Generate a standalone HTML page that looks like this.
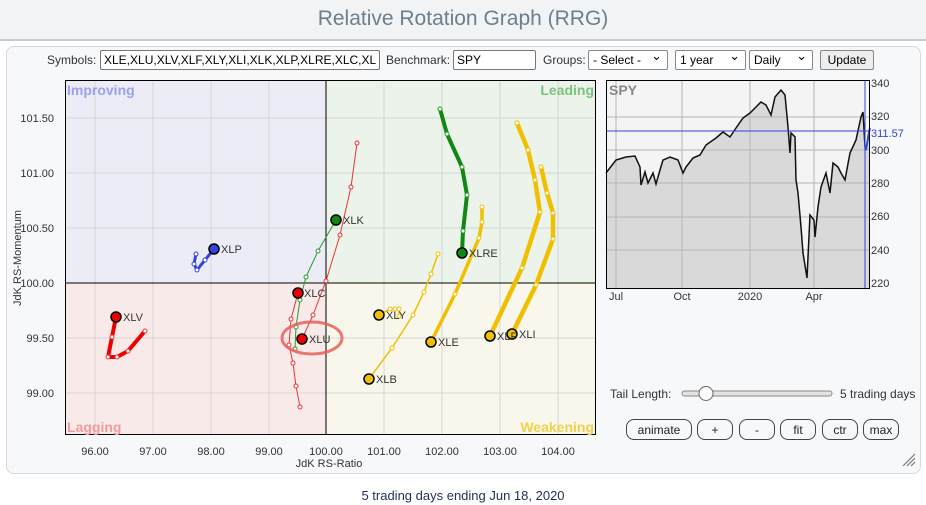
<!DOCTYPE html>
<html><head><meta charset="utf-8"><style>
body{margin:0;width:926px;height:505px;background:#fff;font-family:"Liberation Sans",sans-serif;position:relative;overflow:hidden}
.hdr{position:absolute;left:0;top:0;width:926px;height:39px;background:#f2f3f5;border-bottom:2px solid #c3ccd4;text-align:center;font-size:21px;line-height:37px;color:#6a7f8f}
.panel{position:absolute;left:6px;top:46px;width:913px;height:426px;background:#f7f8fa;border:1px solid #d5d8dc;border-radius:8px}
.t{position:absolute;font-size:12px;color:#333;white-space:nowrap}
.inp{position:absolute;border:1px solid #777;background:#fff;font-size:12px;line-height:18px;padding-left:3px;box-sizing:border-box;height:20px;color:#000;border-radius:2px;overflow:hidden;white-space:nowrap}
.sel{position:absolute;height:20px;border:1px solid #888;background:#fff;font-size:12px;line-height:18px;padding-left:4px;box-sizing:border-box;border-radius:2px;white-space:nowrap}
.sel:after{content:"⌄";position:absolute;right:5px;top:-4px;font-size:13px}
.upd{position:absolute;height:20px;border:1px solid #888;background:#eee;font-size:12px;line-height:18px;box-sizing:border-box;border-radius:2px;text-align:center}
.btn{position:absolute;top:419px;height:21px;border:1px solid #444;border-radius:8px;background:#f7f8fa;font-size:12px;text-align:center;line-height:20px;box-sizing:border-box;color:#222}
</style></head><body>
<div class="hdr">Relative Rotation Graph (RRG)</div>
<div class="panel"></div>
<div class="t" style="left:47px;top:53px">Symbols:</div>
<div class="inp" style="left:100px;top:50px;width:280px">XLE,XLU,XLV,XLF,XLY,XLI,XLK,XLP,XLRE,XLC,XL</div>
<div class="t" style="left:386px;top:53px">Benchmark:</div>
<div class="inp" style="left:453px;top:50px;width:83px">SPY</div>
<div class="t" style="left:543px;top:53px">Groups:</div>
<div class="sel" style="left:588px;top:50px;width:80px">- Select -</div>
<div class="sel" style="left:675px;top:50px;width:71px">1 year</div>
<div class="sel" style="left:749px;top:50px;width:64px">Daily</div>
<div class="upd" style="left:820px;top:50px;width:54px">Update</div>
<svg width="926" height="505" style="position:absolute;left:0;top:0" font-family="Liberation Sans, sans-serif">
<rect x="65" y="80" width="261" height="203" fill="#ececf7"/>
<rect x="326" y="80" width="270" height="203" fill="#ebf3eb"/>
<rect x="65" y="283" width="261" height="152" fill="#f9eaea"/>
<rect x="326" y="283" width="270" height="152" fill="#f9f7eb"/>
<g stroke="#d6d6d6" stroke-width="1">
<line x1="95" y1="80" x2="95" y2="435"/><line x1="153" y1="80" x2="153" y2="435"/><line x1="211" y1="80" x2="211" y2="435"/><line x1="269" y1="80" x2="269" y2="435"/><line x1="384" y1="80" x2="384" y2="435"/><line x1="442" y1="80" x2="442" y2="435"/><line x1="500" y1="80" x2="500" y2="435"/><line x1="558" y1="80" x2="558" y2="435"/>
<line x1="65" y1="118" x2="596" y2="118"/><line x1="65" y1="173" x2="596" y2="173"/><line x1="65" y1="228" x2="596" y2="228"/><line x1="65" y1="338" x2="596" y2="338"/><line x1="65" y1="393" x2="596" y2="393"/>
</g>
<line x1="326" y1="80" x2="326" y2="435" stroke="#000"/><line x1="65" y1="283" x2="596" y2="283" stroke="#000"/>
<rect x="65.5" y="80.5" width="530" height="354" fill="none" stroke="#000"/>
<g font-size="14" font-weight="bold"><text x="67" y="95" fill="#9aa2ea">Improving</text><text x="594" y="95" fill="#7cc27c" text-anchor="end">Leading</text><text x="67" y="432" fill="#f59a9a">Lagging</text><text x="594" y="432" fill="#f2d14a" text-anchor="end">Weakening</text></g>
<g font-size="11" fill="#333" text-anchor="end"><text x="54" y="122">101.50</text><text x="54" y="177">101.00</text><text x="54" y="232">100.50</text><text x="54" y="287">100.00</text><text x="54" y="342">99.50</text><text x="54" y="397">99.00</text></g>
<g font-size="11" fill="#333" text-anchor="middle"><text x="95" y="455">96.00</text><text x="153" y="455">97.00</text><text x="211" y="455">98.00</text><text x="269" y="455">99.00</text><text x="326" y="455">100.00</text><text x="384" y="455">101.00</text><text x="442" y="455">102.00</text><text x="500" y="455">103.00</text><text x="558" y="455">104.00</text><text x="329" y="467">JdK RS-Ratio</text></g>
<text transform="translate(21,258) rotate(-90)" font-size="11" fill="#333" text-anchor="middle">JdK RS-Momentum</text>
<g fill="none" stroke-linejoin="round" stroke-linecap="round">
<polyline points="214,249 205,260 197,270 194,264 196,254" stroke="#3344dd" stroke-width="3"/>
<polyline points="336,220 318,251 306,277 300,300 296,327 295,349" stroke="#2a9a2a" stroke-width="1"/>
<polyline points="298,293 291,319 289,345 293,363 296,386 300,407" stroke="#ee3333" stroke-width="1"/>
<polyline points="302,339 313,315 326,281 340,235 351,187 357,143" stroke="#ee3333" stroke-width="1"/>
<polyline points="116,317 112,337 108,357 117,357 128,351 145,331" stroke="#ee0000" stroke-width="4"/>
<polyline points="462,253 463,231 467,195 462,167 447,134 440,109" stroke="#118811" stroke-width="4"/>
<polyline points="379,315 390,309 395,309 399,309 399,316" stroke="#f0c000" stroke-width="1.5"/>
<polyline points="369,379 392,348 413,315 424,292 431,274 438,254" stroke="#f0c000" stroke-width="1.5"/>
<polyline points="431,342 455,294 479,238 482,222 482,207" stroke="#f0c000" stroke-width="3.5"/>
<polyline points="490,336 522,268 540,212 535,180 528,150 517,123" stroke="#f0c000" stroke-width="4.5"/>
<polyline points="512,334 536,285 553,239 553,213 547,193 541,167" stroke="#f0c000" stroke-width="4.5"/>
</g>
<g fill="#fff" stroke-width="1">
<g stroke="#3344dd"><circle cx="205" cy="260" r="2"/><circle cx="197" cy="270" r="2"/><circle cx="194" cy="264" r="2"/><circle cx="196" cy="254" r="2"/></g>
<g stroke="#2a9a2a"><circle cx="318" cy="251" r="2"/><circle cx="306" cy="277" r="2"/><circle cx="300" cy="300" r="2"/><circle cx="296" cy="327" r="2"/><circle cx="295" cy="349" r="2"/><circle cx="447" cy="134" r="2"/><circle cx="440" cy="109" r="2"/><circle cx="462" cy="167" r="2"/><circle cx="467" cy="195" r="2"/><circle cx="463" cy="231" r="2"/></g>
<g stroke="#ee3333"><circle cx="291" cy="319" r="2"/><circle cx="289" cy="345" r="2"/><circle cx="293" cy="363" r="2"/><circle cx="296" cy="386" r="2"/><circle cx="300" cy="407" r="2"/><circle cx="313" cy="315" r="2"/><circle cx="326" cy="281" r="2"/><circle cx="340" cy="235" r="2"/><circle cx="351" cy="187" r="2"/><circle cx="357" cy="143" r="2"/><circle cx="112" cy="337" r="2"/><circle cx="108" cy="357" r="2"/><circle cx="117" cy="357" r="2"/><circle cx="128" cy="351" r="2"/><circle cx="145" cy="331" r="2"/></g>
<g stroke="#f0c000"><circle cx="390" cy="309" r="2"/><circle cx="395" cy="309" r="2"/><circle cx="399" cy="309" r="2"/><circle cx="399" cy="316" r="2"/><circle cx="392" cy="348" r="2"/><circle cx="413" cy="315" r="2"/><circle cx="424" cy="292" r="2"/><circle cx="431" cy="274" r="2"/><circle cx="438" cy="254" r="2"/><circle cx="455" cy="294" r="2"/><circle cx="479" cy="238" r="2"/><circle cx="482" cy="222" r="2"/><circle cx="482" cy="207" r="2"/><circle cx="522" cy="268" r="2"/><circle cx="540" cy="212" r="2"/><circle cx="535" cy="180" r="2"/><circle cx="528" cy="150" r="2"/><circle cx="517" cy="123" r="2"/><circle cx="536" cy="285" r="2"/><circle cx="553" cy="239" r="2"/><circle cx="553" cy="213" r="2"/><circle cx="547" cy="193" r="2"/><circle cx="541" cy="167" r="2"/></g>
</g>
<g stroke="#000" stroke-width="1.5">
<circle cx="214" cy="249" r="5" fill="#3344dd"/><circle cx="336" cy="220" r="5" fill="#118811"/><circle cx="298" cy="293" r="5" fill="#ee0000"/><circle cx="302" cy="339" r="5" fill="#ee0000"/><circle cx="116" cy="317" r="5" fill="#ee0000"/><circle cx="462" cy="253" r="5" fill="#118811"/><circle cx="379" cy="315" r="5" fill="#f0c000"/><circle cx="369" cy="379" r="5" fill="#f0c000"/><circle cx="431" cy="342" r="5" fill="#f0c000"/><circle cx="490" cy="336" r="5" fill="#f0c000"/><circle cx="512" cy="334" r="5" fill="#f0c000"/>
</g>
<g font-size="11" fill="#333"><text x="221" y="253">XLP</text><text x="343" y="224">XLK</text><text x="304" y="297">XLC</text><text x="309" y="343">XLU</text><text x="123" y="321">XLV</text><text x="469" y="257">XLRE</text><text x="386" y="319">XLY</text><text x="376" y="383">XLB</text><text x="438" y="346">XLE</text><text x="497" y="340">XLF</text><text x="519" y="338">XLI</text></g>
<ellipse cx="312" cy="338" rx="30" ry="16" fill="none" stroke="#e8605a" stroke-width="3" opacity="0.85"/>
<rect x="606" y="80" width="259" height="209" fill="#f4f4f4"/>
<polygon fill="#d9d9d9" points="606,289 606,173 616,160 626,157 635,156 640,167 641,185 645,172 648,183 653,173 656,184 660,170 663,160 670,157 678,160 683,173 686,167 693,158 700,155 706,145 716,138 723,132 730,137 736,128 743,118 750,113 756,107 761,102 766,105 771,115 775,97 781,90 785,95 788,127 790,153 791,133 795,137 796,180 798,193 801,227 803,253 807,278 810,215 814,220 815,237 818,207 821,187 826,173 830,193 833,163 838,167 841,173 845,180 850,153 856,140 861,117 863,112 865,147 866,150 869,130 870,289"/>
<g stroke="#b5b5b5" stroke-width="1"><line x1="616" y1="80" x2="616" y2="289"/><line x1="682" y1="80" x2="682" y2="289"/><line x1="750" y1="80" x2="750" y2="289"/><line x1="814" y1="80" x2="814" y2="289"/>
<line x1="606" y1="117" x2="870" y2="117"/><line x1="606" y1="150" x2="870" y2="150"/><line x1="606" y1="183" x2="870" y2="183"/><line x1="606" y1="217" x2="870" y2="217"/><line x1="606" y1="250" x2="870" y2="250"/></g>
<polyline fill="none" stroke="#111" stroke-width="1.5" points="606,173 616,160 626,157 635,156 640,167 641,185 645,172 648,183 653,173 656,184 660,170 663,160 670,157 678,160 683,173 686,167 693,158 700,155 706,145 716,138 723,132 730,137 736,128 743,118 750,113 756,107 761,102 766,105 771,115 775,97 781,90 785,95 788,127 790,153 791,133 795,137 796,180 798,193 801,227 803,253 807,278 810,215 814,220 815,237 818,207 821,187 826,173 830,193 833,163 838,167 841,173 845,180 850,153 856,140 861,117 863,112 865,147"/>
<polyline fill="none" stroke="#3344dd" stroke-width="2" points="865,147 866,150 869,132 870,128"/>
<line x1="606" y1="131" x2="870" y2="131" stroke="#3344dd"/>
<line x1="865" y1="80" x2="865" y2="289" stroke="#3344dd"/>
<rect x="606.5" y="80.5" width="263" height="208" fill="none" stroke="#000"/>
<text x="609" y="95" font-size="14" font-weight="bold" fill="#888">SPY</text>
<g font-size="11" fill="#333"><text x="871" y="87">340</text><text x="871" y="120">320</text><text x="871" y="154">300</text><text x="871" y="187">280</text><text x="871" y="220">260</text><text x="871" y="254">240</text><text x="871" y="287">220</text><text x="871" y="137" fill="#3344dd">311.57</text></g>
<g font-size="11" fill="#333" text-anchor="middle"><text x="616" y="300">Jul</text><text x="682" y="300">Oct</text><text x="750" y="300">2020</text><text x="814" y="300">Apr</text></g>
<text x="610" y="398" font-size="12" fill="#333">Tail Length:</text>
<rect x="682" y="391" width="150" height="5" rx="2.5" fill="#e2e2e2" stroke="#888"/>
<circle cx="706" cy="393.5" r="7" fill="#fafafa" stroke="#666"/>
<text x="840" y="398" font-size="12" fill="#333">5 trading days</text>
<g stroke="#777" stroke-width="1.2"><line x1="903" y1="466" x2="915" y2="454"/><line x1="907" y1="466" x2="915" y2="458"/><line x1="911" y1="466" x2="915" y2="462"/></g>
<text x="463" y="500" font-size="13" fill="#223355" text-anchor="middle">5 trading days ending Jun 18, 2020</text>
</svg>
<div class="btn" style="left:626px;width:66px">animate</div>
<div class="btn" style="left:697px;width:36px">+</div>
<div class="btn" style="left:739px;width:36px">-</div>
<div class="btn" style="left:780px;width:36px">fit</div>
<div class="btn" style="left:822px;width:36px">ctr</div>
<div class="btn" style="left:863px;width:36px">max</div>
</body></html>
